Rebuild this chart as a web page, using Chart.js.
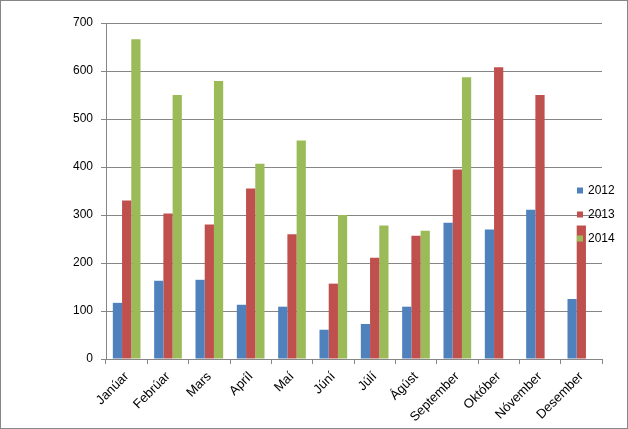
<!DOCTYPE html>
<html>
<head>
<meta charset="utf-8">
<script src="https://cdn.jsdelivr.net/npm/chart.js@4/dist/chart.umd.min.js"></script>
<style>
html,body{margin:0;padding:0;background:#fff;}
#wrap{width:628px;height:429px;}
</style>
</head>
<body>
<div id="wrap"><canvas id="c" width="628" height="429"></canvas></div>
<script>
const categories = ['Janúar','Febrúar','Mars','Apríl','Maí','Júní','Júlí','Ágúst','September','Október','Nóvember','Desember'];
const seriesNames = ['2012','2013','2014'];
const values2012 = [117,163,165,113,109,61,73,109,284,270,311,125];
const values2013 = [330,303,280,355,260,157,211,257,395,608,550,278];
const values2014 = [666,550,579,407,455,300,278,267,587,null,null,null];
const seriesColors = ['#4F81BD','#C0504D','#9BBB59'];
const yMin = 0, yMax = 700, yStep = 100;

const FONT = {family:'"Liberation Sans", Arial, sans-serif', size:12};
const XFONT = {family:'"Liberation Sans", Arial, sans-serif', size:13};
const GRID = '#868686';

const bgBorder = {
  id:'bgBorder',
  beforeDraw(chart){
    const c = chart.ctx;
    c.save(); c.fillStyle='#fff'; c.fillRect(0,0,chart.width,chart.height); c.restore();
  },
  afterDraw(chart){
    const c = chart.ctx;
    c.save();
    c.strokeStyle = GRID; c.lineWidth = 1;
    c.strokeRect(0.5,0.5,chart.width-1,chart.height-1);
    c.font = '12px "Liberation Sans", Arial, sans-serif';
    c.textBaseline = 'middle';
    chart.data.datasets.forEach((ds,i)=>{
      const y = 190.5 + i*24;
      c.fillStyle = ds.backgroundColor;
      c.fillRect(577, y-3, 6, 6);
      c.fillStyle = '#000';
      c.fillText(ds.label, 588, y);
    });
    c.restore();
  }
};

const datasets = [values2012, values2013, values2014].map((v,i)=>({
  label: seriesNames[i],
  data: v,
  backgroundColor: seriesColors[i],
  borderWidth: 0,
  categoryPercentage: 0.67,
  barPercentage: 1.0
}));

new Chart(document.getElementById('c'), {
  type:'bar',
  data:{labels:categories, datasets},
  options:{
    responsive:false,
    animation:false,
    devicePixelRatio:1,
    layout:{padding:{left:0, top:23, right:26, bottom:0}},
    plugins:{legend:{display:false}, tooltip:{enabled:false}},
    scales:{
      x:{
        grid:{display:true, drawOnChartArea:false, drawTicks:true, tickLength:5, color:GRID, offset:true},
        border:{display:true, color:GRID},
        ticks:{font:XFONT, color:'#000', minRotation:45, maxRotation:45, autoSkip:false, padding:5},
        afterFit(s){ s.height = 70; }
      },
      y:{
        min:yMin, max:yMax,
        grid:{color:GRID, tickLength:5, drawTicks:true},
        border:{display:true, color:GRID},
        ticks:{font:FONT, color:'#000', stepSize:yStep, padding:8},
        afterFit(s){ s.width = 106; }
      }
    }
  },
  plugins:[bgBorder]
});
</script>
</body>
</html>
